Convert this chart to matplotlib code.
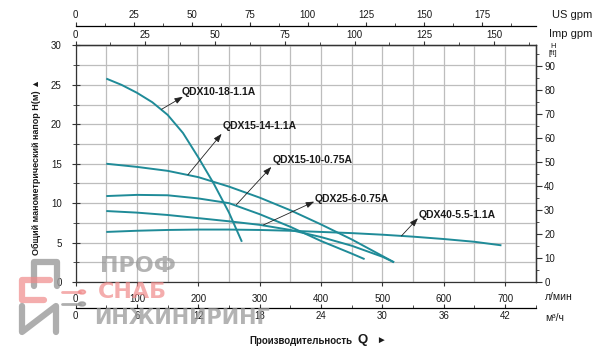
import matplotlib
matplotlib.use("Agg")
import matplotlib.pyplot as plt
from matplotlib.lines import Line2D
from matplotlib.ticker import MultipleLocator

plt.rcParams['font.family'] = ['Liberation Sans', 'DejaVu Sans']

# pump curves, Q in l/min, H in m
q_10_18 = [50, 75, 100, 125, 150, 175, 200, 225, 250, 271]
h_10_18 = [25.8, 25.0, 24.0, 22.8, 21.2, 18.9, 15.8, 12.5, 8.8, 5.1]

q_15_14 = [50, 100, 150, 200, 250, 300, 350, 400, 450, 500, 519]
h_15_14 = [15.0, 14.6, 14.1, 13.3, 12.1, 10.7, 9.1, 7.3, 5.4, 3.3, 2.5]

q_15_10 = [50, 100, 150, 200, 250, 300, 350, 400, 450, 471]
h_15_10 = [10.9, 11.05, 11.0, 10.6, 10.0, 8.6, 7.0, 5.2, 3.6, 2.9]

q_25_6 = [50, 100, 150, 200, 250, 300, 350, 400, 450, 500, 519]
h_25_6 = [9.0, 8.8, 8.5, 8.1, 7.7, 7.25, 6.6, 5.7, 4.6, 3.2, 2.5]

q_40 = [50, 100, 150, 200, 250, 300, 350, 400, 450, 500, 550, 600, 650, 694]
h_40 = [6.35, 6.5, 6.6, 6.65, 6.65, 6.6, 6.5, 6.35, 6.2, 6.0, 5.75, 5.45, 5.1, 4.65]

curves = [(q_10_18, h_10_18), (q_15_14, h_15_14), (q_15_10, h_15_10),
          (q_25_6, h_25_6), (q_40, h_40)]

# labels: name, text pos, arrow tip, arrow tail (on curve)
labels = [
    ('QDX10-18-1.1A', (172, 24.1), (175, 23.5), (140, 21.9)),
    ('QDX15-14-1.1A', (240, 19.8), (238, 18.8), (183, 13.6)),
    ('QDX15-10-0.75A', (321, 15.5), (319, 14.6), (262, 9.8)),
    ('QDX25-6-0.75A', (390, 10.5), (389, 10.2), (306, 7.23)),
    ('QDX40-5.5-1.1A', (559, 8.5), (558, 8.1), (531, 5.84)),
]

LINE_COLOR = '#1f8b98'
GRID_COLOR = '#bdbdbd'
TXT = '#1a1a1a'
WM_GRAY = '#9a9a9a'
WM_PINK = '#f08a8a'

fig = plt.figure(figsize=(6.0, 3.51), dpi=100)
ax = fig.add_axes([0.126, 0.1966, 0.767, 0.6738])
ax.set_xlim(0, 750)
ax.set_ylim(0, 30)

ax.set_xticks(range(0, 751, 50), minor=True)
ax.set_yticks([i * 2.5 for i in range(13)], minor=True)
ax.grid(which='minor', color=GRID_COLOR, linewidth=0.9)
ax.grid(which='major', color=GRID_COLOR, linewidth=0.9)
ax.set_axisbelow(True)

for s in ax.spines.values():
    s.set_color('#333333')
    s.set_linewidth(0.9)

ax.set_xticks(range(0, 701, 100))
ax.set_xticklabels([str(v) for v in range(0, 701, 100)])
ax.set_yticks(range(0, 31, 5))
ax.tick_params(axis='x', which='major', direction='out', length=3, pad=6,
               labelsize=7, colors='#333333', labelcolor=TXT)
ax.tick_params(axis='x', which='minor', direction='out', length=0)
ax.tick_params(axis='y', which='major', direction='inout', length=6, pad=7,
               labelsize=7, colors='#333333', labelcolor=TXT)
ax.tick_params(axis='y', which='minor', direction='inout', length=4,
               colors='#333333')

for q, h in curves:
    ax.plot(q, h, color=LINE_COLOR, linewidth=1.4, solid_capstyle='butt')

for name, tpos, tip, tail in labels:
    ax.annotate('', xy=tip, xytext=tail,
                arrowprops=dict(arrowstyle='-|>,head_length=0.5,head_width=0.18',
                                color='#222222', lw=0.6, shrinkA=0, shrinkB=0))
    ax.text(tpos[0], tpos[1], name, ha='left', va='center', fontsize=7.5,
            fontweight='bold', color=TXT)

# Imp gpm on the top spine
imp = ax.secondary_xaxis('top', functions=(lambda x: x / 4.546, lambda x: x * 4.546))
imp.set_xticks(range(0, 151, 25))
imp.xaxis.set_minor_locator(MultipleLocator(12.5))
imp.tick_params(which='major', direction='out', length=3, pad=1, labelsize=7,
                colors='#333333', labelcolor=TXT)
imp.tick_params(which='minor', direction='out', length=2, colors='#333333')
imp.spines['top'].set_linewidth(0.9)

# US gpm above
us = ax.secondary_xaxis(1.083, functions=(lambda x: x / 3.785, lambda x: x * 3.785))
us.set_xticks(range(0, 176, 25))
us.xaxis.set_minor_locator(MultipleLocator(12.5))
us.tick_params(which='major', direction='out', length=3, pad=1, labelsize=7,
               colors='#333333', labelcolor=TXT)
us.tick_params(which='minor', direction='out', length=2, colors='#333333')
us.spines['top'].set_linewidth(0.9)

# m3/h below
m3 = ax.secondary_xaxis(-0.112, functions=(lambda x: x * 0.06, lambda x: x / 0.06))
m3.set_xticks(range(0, 43, 6))
m3.xaxis.set_minor_locator(MultipleLocator(3))
m3.tick_params(which='major', direction='in', length=3, pad=2, labelsize=7,
               colors='#333333', labelcolor=TXT)
m3.tick_params(which='minor', direction='in', length=2, colors='#333333')
m3.spines['bottom'].set_linewidth(0.9)

# feet on the right
ft = ax.secondary_yaxis('right', functions=(lambda y: y * 3.2808, lambda y: y / 3.2808))
ft.set_yticks(range(0, 91, 10))
ft.yaxis.set_minor_locator(MultipleLocator(5))
ft.tick_params(which='major', direction='out', length=4, pad=2, labelsize=7,
               colors='#333333', labelcolor=TXT)
ft.tick_params(which='minor', direction='out', length=2.5, colors='#333333')
ft.spines['right'].set_linewidth(0.9)

# unit texts
W, Hh = 600.0, 351.0
def ftxt(x, y, s, **kw):
    fig.text(x / W, 1 - y / Hh, s, **kw)

def fline(pts, **kw):
    xs = [p[0] / W for p in pts]
    ys = [1 - p[1] / Hh for p in pts]
    fig.add_artist(Line2D(xs, ys, transform=fig.transFigure,
                          solid_capstyle='round', solid_joinstyle='round', **kw))

ftxt(592, 15, 'US gpm', ha='right', va='center', fontsize=8, color=TXT)
ftxt(592, 34, 'Imp gpm', ha='right', va='center', fontsize=8, color=TXT)
ftxt(553, 50, 'H\n[ft]', ha='center', va='center', fontsize=5.5, color=TXT,
     linespacing=0.9)
ftxt(545, 297, 'л/мин', ha='left', va='center', fontsize=7.5, color=TXT)
ftxt(545, 318, 'м³/ч', ha='left', va='center', fontsize=7.5, color=TXT)

ftxt(36, 167, 'Общий манометрический напор H(м) ▲', ha='center', va='center',
     rotation=90, fontsize=6.5, fontweight='bold', color=TXT)
ftxt(352, 341, 'Производительность', ha='right', va='center', fontsize=7,
     fontweight='bold', color=TXT)
ftxt(357, 340, 'Q', ha='left', va='center', fontsize=9.5, fontweight='bold',
     color=TXT)
ftxt(376, 340, '►', ha='left', va='center', fontsize=7, color=TXT)

# watermark logo
fline([(34, 286), (34, 262), (57, 262), (57, 286)], color=WM_GRAY, lw=4.5, alpha=0.8)
fline([(50, 280), (22, 280), (22, 300), (44, 300)], color=WM_PINK, lw=4.5, alpha=0.7)
fline([(62, 292), (80, 292)], color=WM_PINK, lw=2, alpha=0.7)
fline([(22, 306), (22, 332), (56, 306), (56, 332)], color=WM_GRAY, lw=4.5, alpha=0.8)
fline([(62, 304), (80, 304)], color=WM_GRAY, lw=2, alpha=0.8)
fig.add_artist(plt.Circle((82 / W, 1 - 292 / Hh), 3.5 / W, transform=fig.transFigure,
                          color=WM_PINK, alpha=0.7))
fig.add_artist(plt.Circle((82 / W, 1 - 304 / Hh), 3.5 / W, transform=fig.transFigure,
                          color=WM_GRAY, alpha=0.8))

ftxt(100, 266, 'ПРОФ', ha='left', va='center', fontsize=16, color=WM_GRAY,
     alpha=0.75, family='DejaVu Sans', fontweight='bold')
ftxt(98, 292, 'СНАБ', ha='left', va='center', fontsize=16, color=WM_PINK,
     alpha=0.7, family='DejaVu Sans', fontweight='bold')
ftxt(94, 318, 'ИНЖИНИРИНГ', ha='left', va='center', fontsize=15,
     color=WM_GRAY, alpha=0.75, family='DejaVu Sans', fontweight='bold')

fig.savefig('out.png', dpi=100)
